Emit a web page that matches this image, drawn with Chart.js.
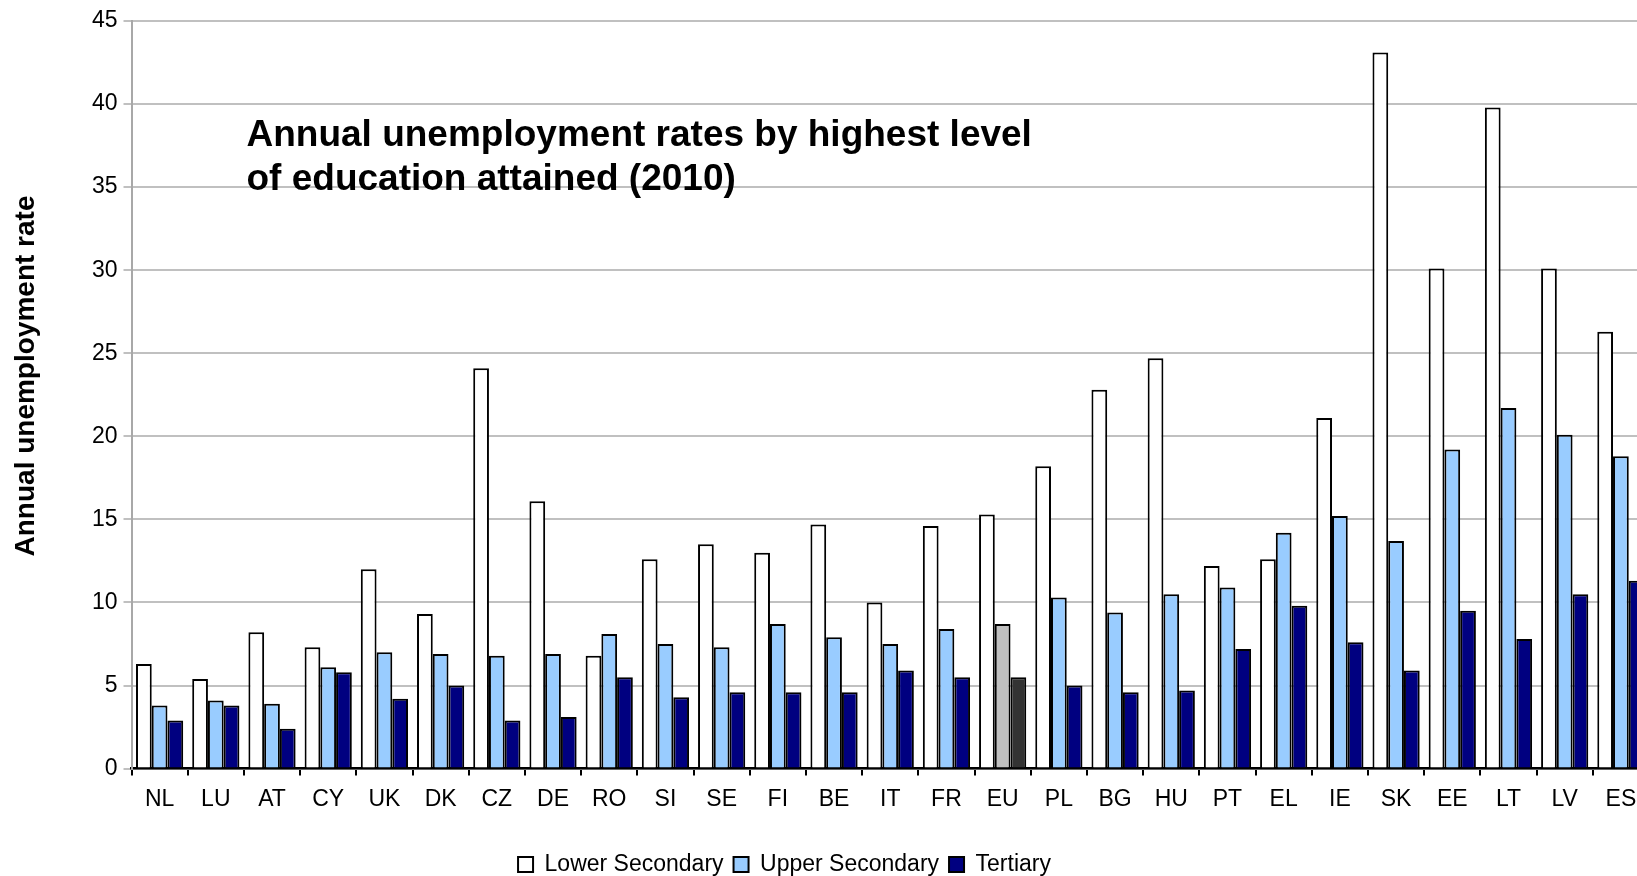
<!DOCTYPE html>
<html>
<head>
<meta charset="utf-8">
<script src="https://cdn.jsdelivr.net/npm/chart.js@4/dist/chart.umd.min.js"></script>
<style>
  html, body { margin: 0; padding: 0; overflow: hidden; background: #fff; }
  #wrap { position: relative; width: 1650px; height: 886px; }
</style>
</head>
<body>
<div id="wrap"><canvas id="chart"></canvas></div>
<script>
// ==========================
// DATA
// ==========================
const countries = ["NL", "LU", "AT", "CY", "UK", "DK", "CZ", "DE", "RO", "SI", "SE", "FI", "BE", "IT",
  "FR", "EU", "PL", "BG", "HU", "PT", "EL", "IE", "SK", "EE", "LT", "LV", "ES"];

const lowerSecondary = [6.3, 5.4, 8.2, 7.3, 12.0, 9.3, 24.1, 16.1, 6.8, 12.6, 13.5, 13.0, 14.7, 10.0,
  14.6, 15.3, 18.2, 22.8, 24.7, 12.2, 12.6, 21.1, 43.1, 30.1, 39.8, 30.1, 26.3];

const upperSecondary = [3.8, 4.1, 3.9, 6.1, 7.0, 6.9, 6.8, 6.9, 8.1, 7.5, 7.3, 8.7, 7.9, 7.5,
  8.4, 8.7, 10.3, 9.4, 10.5, 10.9, 14.2, 15.2, 13.7, 19.2, 21.7, 20.1, 18.8];

const tertiary = [2.9, 3.8, 2.4, 5.8, 4.2, 5.0, 2.9, 3.1, 5.5, 4.3, 4.6, 4.6, 4.6, 5.9,
  5.5, 5.5, 5.0, 4.6, 4.7, 7.2, 9.8, 7.6, 5.9, 9.5, 7.8, 10.5, 11.3];

const seriesNames = ["Lower Secondary", "Upper Secondary", "Tertiary"];
const titleLines = ["Annual unemployment rates by highest level", "of education attained (2010)"];
const yTitle = "Annual unemployment rate";
const highlight = "EU";

// ==========================
// HELPER
// ==========================
const FONT = "'Liberation Sans', Arial, Helvetica, sans-serif";
const euIndex = countries.indexOf(highlight);

function colorFor(normal, eu) {
  return (ctx) => (ctx.dataIndex === euIndex ? eu : normal);
}

// title inside the plot area + rotated y title, legend nudged left
const extras = {
  id: "extras",
  afterLayout(chart) {
    const shift = -40;
    chart.legend.left += shift;
    chart.legend.right += shift;
  },
  afterDraw(chart) {
    const { ctx, chartArea } = chart;
    ctx.save();
    ctx.fillStyle = "#000";
    ctx.textBaseline = "middle";

    ctx.font = "bold 37px " + FONT;
    ctx.textAlign = "left";
    titleLines.forEach((line, i) => {
      ctx.fillText(line, chartArea.left + 115, chartArea.top + 115 + i * 44);
    });

    ctx.font = "bold 28px " + FONT;
    ctx.textAlign = "center";
    ctx.translate(26, chartArea.top + 355);
    ctx.rotate(-Math.PI / 2);
    ctx.fillText(yTitle, 0, 0);
    ctx.restore();
  }
};

// ==========================
// CHART
// ==========================
Chart.defaults.font.family = FONT;
Chart.defaults.color = "#000";

new Chart(document.getElementById("chart"), {
  type: "bar",
  data: {
    labels: countries,
    datasets: [
      {
        label: seriesNames[0],
        data: lowerSecondary,
        backgroundColor: "#ffffff",
        borderColor: "#000",
        borderWidth: 2
      },
      {
        label: seriesNames[1],
        data: upperSecondary,
        backgroundColor: colorFor("#99ccff", "#c0c0c0"),
        borderColor: "#000",
        borderWidth: 2
      },
      {
        label: seriesNames[2],
        data: tertiary,
        backgroundColor: colorFor("#000080", "#333333"),
        borderColor: "#000",
        borderWidth: 2
      }
    ]
  },
  options: {
    responsive: true,
    maintainAspectRatio: false,
    animation: false,
    layout: { padding: { top: 21, left: 0, right: 1, bottom: 0 } },
    datasets: {
      bar: { categoryPercentage: 0.84, barPercentage: 1.0 }
    },
    scales: {
      x: {
        offset: true,
        grid: {
          offset: true,
          drawOnChartArea: false,
          drawTicks: true,
          tickLength: 7,
          color: "#000",
          lineWidth: 2
        },
        border: { color: "#000", width: 2.5 },
        ticks: {
          font: { size: 23 },
          padding: 10,
          maxRotation: 0,
          autoSkip: false
        },
        afterFit(scale) { scale.height = 74.4; }
      },
      y: {
        min: 0,
        max: 45,
        ticks: {
          stepSize: 5,
          font: { size: 23 },
          padding: 6
        },
        grid: {
          color: "#c0c0c0",
          lineWidth: 2,
          tickLength: 8
        },
        border: { color: "#a8a8a8", width: 2 },
        afterFit(scale) { scale.width = 131.5; }
      }
    },
    plugins: {
      legend: {
        position: "bottom",
        labels: {
          boxWidth: 15,
          boxHeight: 15,
          padding: 10,
          font: { size: 23 },
          color: "#000"
        }
      },
      tooltip: { enabled: false }
    }
  },
  plugins: [extras]
});
</script>
</body>
</html>
